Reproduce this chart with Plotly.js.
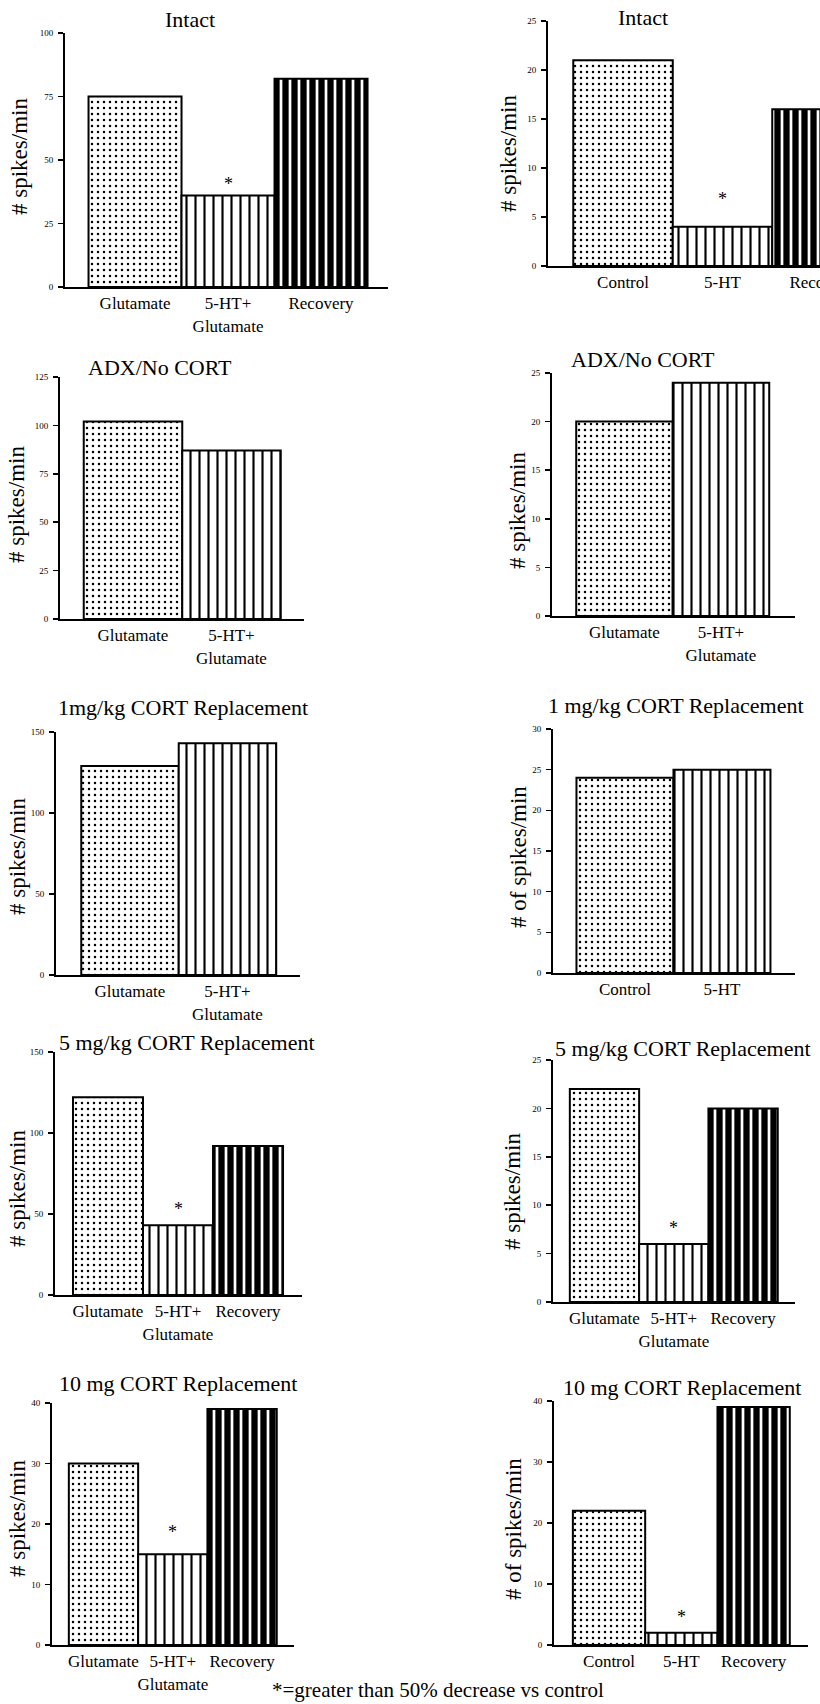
<!DOCTYPE html>
<html>
<head>
<meta charset="utf-8">
<script src="https://cdn.plot.ly/plotly-3.0.1.min.js"></script>
<style>
html,body{margin:0;padding:0;background:#fff;overflow:hidden;}
#wrap{width:820px;height:1704px;overflow:hidden;position:relative;}
#chart{width:900px;height:1704px;}
</style>
</head>
<body>
<div id="wrap"><div id="chart"></div></div>
<script>
// ---------------- DATA ----------------
const gluCategories3 = ['Glutamate', '5-HT+<br>Glutamate', 'Recovery'];
const gluCategories2 = ['Glutamate', '5-HT+<br>Glutamate'];
const ctlCategories3 = ['Control', '5-HT', 'Recovery'];
const ctlCategories2 = ['Control', '5-HT'];

const intactGluValues   = [75, 36, 82];
const intactCtlValues   = [21, 4, 16];
const adxGluValues      = [102, 87];
const adxRightValues    = [20, 24];
const cort1GluValues    = [129, 143];
const cort1CtlValues    = [24, 25];
const cort5GluValues    = [122, 43, 92];
const cort5RightValues  = [22, 6, 20];
const cort10GluValues   = [30, 15, 39];
const cort10CtlValues   = [22, 2, 39];

const panelTitles = ['Intact', 'Intact', 'ADX/No CORT', 'ADX/No CORT',
  '1mg/kg CORT Replacement', '1 mg/kg CORT Replacement',
  '5 mg/kg CORT Replacement', '5 mg/kg CORT Replacement',
  '10 mg CORT Replacement', '10 mg CORT Replacement'];
const yTitles = ['# spikes/min', '# spikes/min', '# spikes/min', '# spikes/min',
  '# spikes/min', '# of spikes/min', '# spikes/min', '# spikes/min',
  '# spikes/min', '# of spikes/min'];

const ticks100 = [0, 25, 50, 75, 100];
const ticks125 = [0, 25, 50, 75, 100, 125];
const ticks150 = [0, 50, 100, 150];
const ticks25  = [0, 5, 10, 15, 20, 25];
const ticks30  = [0, 5, 10, 15, 20, 25, 30];
const ticks40  = [0, 10, 20, 30, 40];

// index of bar marked with * (>50% decrease vs control), -1 = none
const starredBar = [1, 1, -1, -1, -1, -1, 1, 1, 1, 1];
const footnote = '*=greater than 50% decrease vs control';

const panelData = [
  {cats: gluCategories3, vals: intactGluValues,  ticks: ticks100},
  {cats: ctlCategories3, vals: intactCtlValues,  ticks: ticks25},
  {cats: gluCategories2, vals: adxGluValues,     ticks: ticks125},
  {cats: gluCategories2, vals: adxRightValues,   ticks: ticks25},
  {cats: gluCategories2, vals: cort1GluValues,   ticks: ticks150},
  {cats: ctlCategories2, vals: cort1CtlValues,   ticks: ticks30},
  {cats: gluCategories3, vals: cort5GluValues,   ticks: ticks150},
  {cats: gluCategories3, vals: cort5RightValues, ticks: ticks25},
  {cats: gluCategories3, vals: cort10GluValues,  ticks: ticks40},
  {cats: ctlCategories3, vals: cort10CtlValues,  ticks: ticks40}
];

// ---------------- LAYOUT (pixel frames) ----------------
const W = 900, H = 1704;
const frames = [
  {x0: 65,  x1: 388, y0: 33,   y1: 287,  r: [-0.753, 2.72],  tx: 190, ty: 20,   yx: 20,  yy: 157,  ss: 12},
  {x0: 548, x1: 900, y0: 21,   y1: 266,  r: [-0.754, 2.784], tx: 643, ty: 17,   yx: 508, yy: 154,  ss: 28},
  {x0: 60,  x1: 304, y0: 377,  y1: 619,  r: [-0.741, 1.736], tx: 160, ty: 367,  yx: 17,  yy: 505,  ss: 0},
  {x0: 552, x1: 795, y0: 373,  y1: 616,  r: [-0.751, 1.767], tx: 643, ty: 360,  yx: 517, yy: 511,  ss: 0},
  {x0: 56,  x1: 300, y0: 732,  y1: 975,  r: [-0.759, 1.744], tx: 183, ty: 707,  yx: 17,  yy: 857,  ss: 0},
  {x0: 553, x1: 795, y0: 729,  y1: 973,  r: [-0.742, 1.753], tx: 676, ty: 705,  yx: 518, yy: 857,  ss: 0},
  {x0: 55,  x1: 302, y0: 1052, y1: 1295, r: [-0.757, 2.771], tx: 187, ty: 1042, yx: 17,  yy: 1189, ss: 16},
  {x0: 553, x1: 795, y0: 1060, y1: 1302, r: [-0.743, 2.749], tx: 683, ty: 1048, yx: 512, yy: 1192, ss: 16},
  {x0: 52,  x1: 294, y0: 1403, y1: 1645, r: [-0.743, 2.749], tx: 178, ty: 1383, yx: 17,  yy: 1519, ss: 22},
  {x0: 554, x1: 808, y0: 1401, y1: 1645, r: [-0.761, 2.752], tx: 682, ty: 1387, yx: 513, yy: 1529, ss: 16}
];

const FONT = 'Liberation Serif, Times New Roman, serif';
const px = v => v / W;
const py = v => 1 - v / H;

// pattern styles by bar role (control / treatment / recovery)
const patShape = ['.', '|', '|'];
const patSize = [6, 9, 9];
const patSolidity = [0.14, 0.24, 0.70];

const traces = [];
const layout = {
  width: W, height: H,
  margin: {l: 0, r: 0, t: 0, b: 0},
  paper_bgcolor: '#fff', plot_bgcolor: 'rgba(0,0,0,0)',
  showlegend: false,
  bargap: 0,
  font: {family: FONT, color: '#000'},
  annotations: []
};

panelData.forEach((p, i) => {
  const f = frames[i];
  const n = i === 0 ? '' : String(i + 1);
  const k = p.vals.length;
  traces.push({
    type: 'bar',
    x: p.cats,
    y: p.vals,
    xaxis: 'x' + n,
    yaxis: 'y' + n,
    width: 1,
    hoverinfo: 'skip',
    marker: {
      color: '#fff',
      line: {color: '#000', width: 2},
      pattern: {
        shape: patShape.slice(0, k),
        size: patSize.slice(0, k),
        solidity: patSolidity.slice(0, k),
        fgcolor: '#000',
        bgcolor: '#fff',
        fillmode: 'replace'
      }
    }
  });
  layout['xaxis' + n] = {
    domain: [px(f.x0), px(f.x1)],
    anchor: 'y' + n,
    type: 'category',
    categoryorder: 'array',
    categoryarray: p.cats,
    range: f.r,
    tickangle: 0,
    showline: true, linecolor: '#000', linewidth: 2,
    ticks: '', showgrid: false, zeroline: false,
    tickfont: {family: FONT, size: 17, color: '#000'},
    fixedrange: true
  };
  const maxT = p.ticks[p.ticks.length - 1];
  layout['yaxis' + n] = {
    domain: [py(f.y1), py(f.y0)],
    anchor: 'x' + n,
    range: [0, maxT],
    tickvals: p.ticks,
    ticktext: p.ticks.map(String),
    showline: true, linecolor: '#000', linewidth: 2,
    ticks: 'outside', ticklen: 5, tickwidth: 1.5, tickcolor: '#000',
    ticklabelstandoff: 3,
    showgrid: false, zeroline: false,
    tickfont: {family: FONT, size: 9, color: '#000'},
    fixedrange: true
  };
  layout.annotations.push({
    xref: 'paper', yref: 'paper', x: px(f.tx), y: py(f.ty),
    xanchor: 'center', yanchor: 'middle', showarrow: false,
    text: panelTitles[i], font: {family: FONT, size: 22, color: '#000'}
  });
  layout.annotations.push({
    xref: 'paper', yref: 'paper', x: px(f.yx), y: py(f.yy),
    xanchor: 'center', yanchor: 'middle', showarrow: false, textangle: -90,
    text: yTitles[i], font: {family: FONT, size: 23, color: '#000'}
  });
  if (starredBar[i] >= 0) {
    const b = starredBar[i];
    layout.annotations.push({
      xref: 'x' + n, yref: 'y' + n, x: b, y: p.vals[b],
      xanchor: 'center', yanchor: 'middle', yshift: f.ss, showarrow: false,
      text: '*', font: {family: FONT, size: 18, color: '#000'}
    });
  }
});

layout.annotations.push({
  xref: 'paper', yref: 'paper', x: px(438), y: py(1690),
  xanchor: 'center', yanchor: 'middle', showarrow: false,
  text: footnote, font: {family: FONT, size: 21, color: '#000'}
});

Plotly.newPlot('chart', traces, layout, {staticPlot: true, displayModeBar: false});
</script>
</body>
</html>
